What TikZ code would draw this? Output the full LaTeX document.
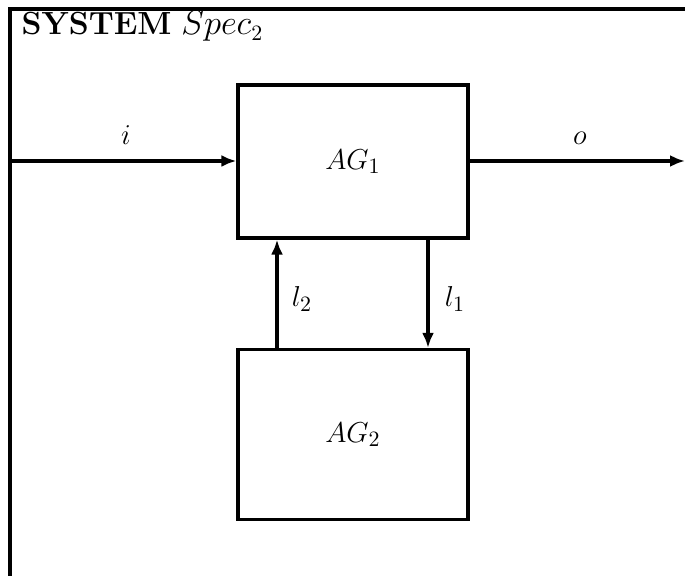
\documentclass[tikz,border=0pt]{standalone}
\usetikzlibrary{arrows.meta}
\begin{document}
\begin{tikzpicture}[x=0.5pt,y=-0.5pt,
  line width=1.65pt,
  blk/.style={draw,line width=1.65pt,rectangle,inner sep=0pt,font=\fontsize{15}{18}\selectfont},
  arr/.style={-{Latex[length=7.5pt,width=6pt]}},
  lbl/.style={font=\fontsize{15}{18}\selectfont,inner sep=0pt}]
\useasboundingbox (0,0) rectangle (685,576);
% frame
\draw (685,9) -- (10,9) -- (10,576);
\node[anchor=base west,inner sep=0pt,font=\fontsize{16}{19}\selectfont] (title) at (20,35) {\textbf{SYSTEM} $Spec_2$};
% blocks
\node[blk,minimum width=115pt,minimum height=76.5pt] (ag1) at (353,161.5) {$AG_1$};
\node[blk,minimum width=115pt,minimum height=85pt] (ag2) at (353,434.5) {$AG_2$};
% coordinates
\coordinate (inS) at (10,161);
\coordinate (outE) at (685,161);
\coordinate (l2x) at (277,0);
\coordinate (l1x) at (428,0);
% connectors
\draw[arr] (inS) -- (ag1.west |- inS);
\draw[arr] (ag1.east |- outE) -- (outE);
\draw[arr] (ag2.north -| l2x) -- (ag1.south -| l2x);
\draw[arr] (ag1.south -| l1x) -- (ag2.north -| l1x);
% labels
\node[lbl,anchor=base] (li) at (126,145) {$i$};
\node[lbl,anchor=base] (lo) at (580,145) {$o$};
\node[lbl,anchor=base] (ll2) at (302,307) {$l_2$};
\node[lbl,anchor=base] (ll1) at (455,307) {$l_1$};
\end{tikzpicture}
\end{document}
